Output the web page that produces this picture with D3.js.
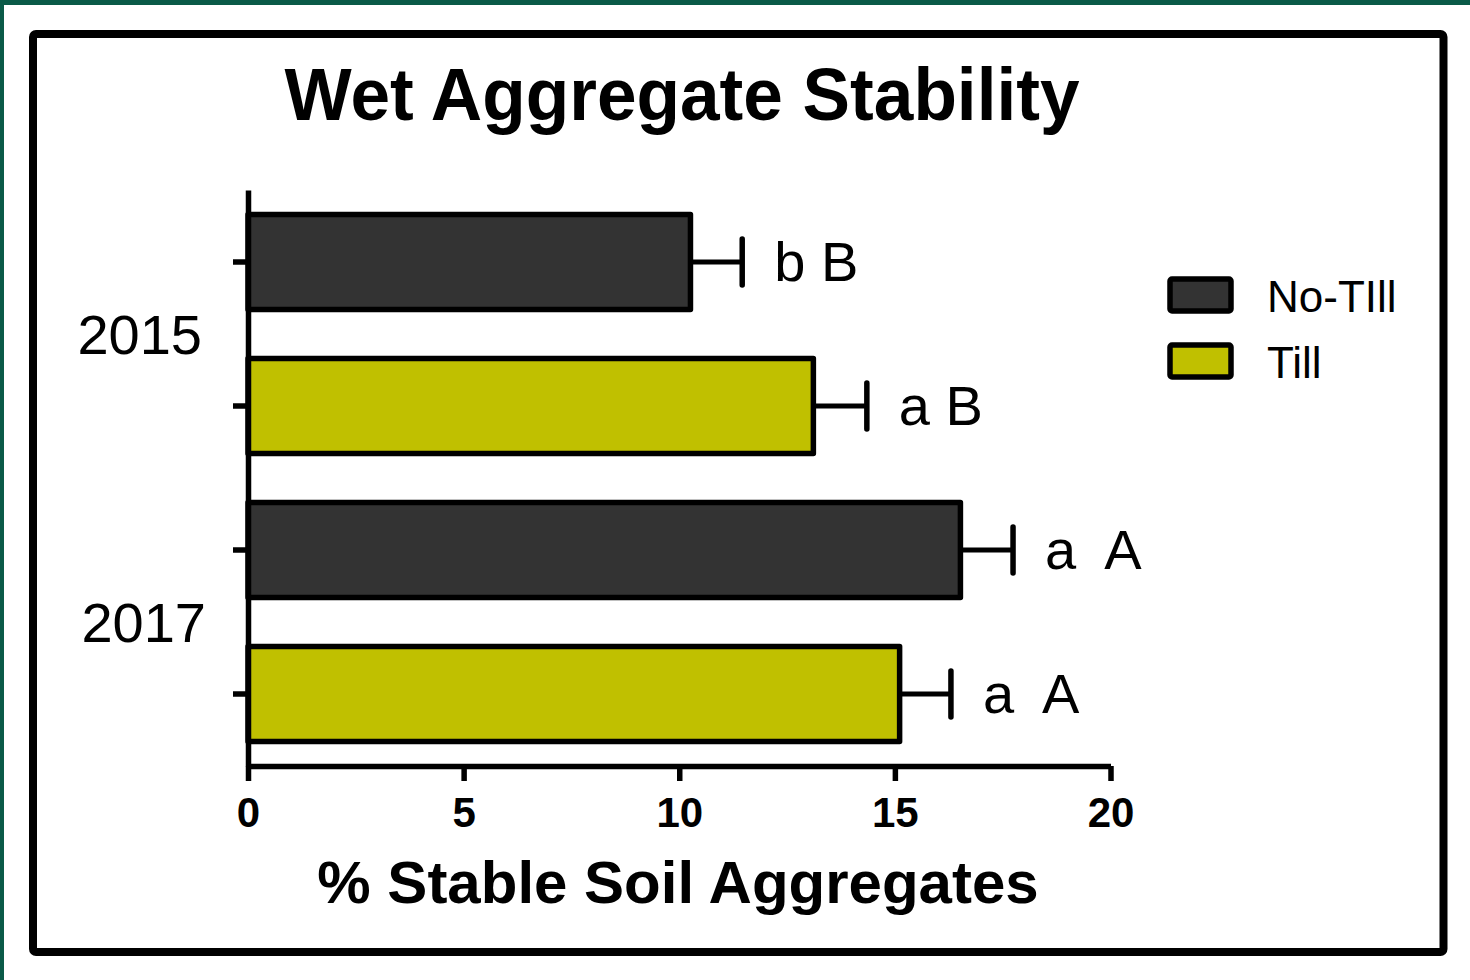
<!DOCTYPE html>
<html>
<head>
<meta charset="utf-8">
<script src="https://cdn.jsdelivr.net/npm/d3@7"></script>
<style>
  html, body { margin: 0; padding: 0; background: #ffffff; }
  svg { display: block; }
  text { font-family: "Liberation Sans", Arial, Helvetica, sans-serif; fill: #000; }
</style>
</head>
<body>
<svg id="chart" width="1470" height="980"></svg>
<script>
// Wet aggregate stability by year and tillage treatment
const years = ["2015", "2017"];
const treatments = ["No-TIll", "Till"];
const rowYear = ["2015", "2015", "2017", "2017"];
const rowTreatment = ["No-TIll", "Till", "No-TIll", "Till"];
const meanValues = [10.26, 13.11, 16.52, 15.11];
const errorValues = [1.20, 1.24, 1.22, 1.19];
const letterLabels = ["b B", "a B", "a  A", "a  A"];
const xTicks = [0, 5, 10, 15, 20];
const fills = ["#333333", "#c0c000"];

const rows = meanValues.map((v, i) => ({
  key: rowYear[i] + "|" + rowTreatment[i],
  year: rowYear[i],
  treatment: rowTreatment[i],
  mean: v,
  err: errorValues[i],
  label: letterLabels[i]
}));

const svg = d3.select("#chart");

// page frame
svg.append("rect").attr("x", 0).attr("y", 0).attr("width", 1470).attr("height", 5).attr("fill", "#0a5a48");
svg.append("rect").attr("x", 0).attr("y", 0).attr("width", 4).attr("height", 980).attr("fill", "#0a5a48");
svg.append("rect")
  .attr("x", 33).attr("y", 34).attr("width", 1410.5).attr("height", 918)
  .attr("rx", 3).attr("fill", "none").attr("stroke", "#000").attr("stroke-width", 8);

const x = d3.scaleLinear().domain([0, 20]).range([248, 1110.5]);
const y = d3.scaleBand().domain(rows.map(d => d.key)).range([190, 766])
  .paddingInner(0.34).paddingOuter(0.17);
const color = d3.scaleOrdinal().domain(treatments).range(fills);

// title
svg.append("text")
  .attr("x", 682).attr("y", 120)
  .attr("text-anchor", "middle")
  .attr("font-size", 74).attr("font-weight", "bold")
  .attr("textLength", 795).attr("lengthAdjust", "spacingAndGlyphs")
  .text("Wet Aggregate Stability");

// bars
svg.append("g").selectAll("rect")
  .data(rows).join("rect")
  .attr("x", x(0))
  .attr("y", d => y(d.key))
  .attr("width", d => x(d.mean) - x(0))
  .attr("height", y.bandwidth())
  .attr("fill", d => color(d.treatment))
  .attr("stroke", "#000").attr("stroke-width", 5.5)
  .attr("stroke-linejoin", "round");

// error bars
const eb = svg.append("g").selectAll("g").data(rows).join("g");
eb.append("line")
  .attr("x1", d => x(d.mean)).attr("x2", d => x(d.mean + d.err))
  .attr("y1", d => y(d.key) + y.bandwidth() / 2).attr("y2", d => y(d.key) + y.bandwidth() / 2)
  .attr("stroke", "#000").attr("stroke-width", 5);
eb.append("line")
  .attr("x1", d => x(d.mean + d.err)).attr("x2", d => x(d.mean + d.err))
  .attr("y1", d => y(d.key) + y.bandwidth() / 2 - 23).attr("y2", d => y(d.key) + y.bandwidth() / 2 + 23)
  .attr("stroke", "#000").attr("stroke-width", 5.5).attr("stroke-linecap", "round");

// significance letters
svg.append("g").selectAll("text").data(rows).join("text")
  .attr("x", d => x(d.mean + d.err) + 32)
  .attr("y", d => y(d.key) + y.bandwidth() / 2 + 19)
  .attr("font-size", 56)
  .style("white-space", "pre")
  .text(d => d.label);

// x axis
const xAxis = svg.append("g")
  .attr("transform", "translate(0,766)")
  .call(d3.axisBottom(x).tickValues(xTicks).tickSize(15).tickSizeOuter(0).tickPadding(16));
xAxis.select(".domain").attr("stroke", "#000").attr("stroke-width", 5.5);
xAxis.selectAll(".tick line").attr("stroke", "#000").attr("stroke-width", 5.5);
xAxis.selectAll(".tick text")
  .attr("font-family", "Liberation Sans, Arial, sans-serif")
  .attr("font-size", 42).attr("font-weight", "bold").attr("fill", "#000");

// y axis
const yAxis = svg.append("g")
  .attr("transform", "translate(248,0)")
  .call(d3.axisLeft(y).tickSize(15).tickSizeOuter(0).tickFormat(""));
yAxis.select(".domain").attr("stroke", "#000").attr("stroke-width", 5.5);
yAxis.selectAll(".tick line").attr("stroke", "#000").attr("stroke-width", 5.5);

// year group labels, centred on each pair of bars
svg.append("g").selectAll("text").data(years).join("text")
  .attr("x", (yr, i) => 202 + i * 4)
  .attr("y", yr => {
    const ks = rows.filter(r => r.year === yr).map(r => y(r.key) + y.bandwidth() / 2);
    return d3.mean(ks) + 20;
  })
  .attr("text-anchor", "end")
  .attr("font-size", 56)
  .text(yr => yr);

// x axis title
svg.append("text")
  .attr("x", 678).attr("y", 903)
  .attr("text-anchor", "middle")
  .attr("font-size", 60).attr("font-weight", "bold")
  .text("% Stable Soil Aggregates");

// legend
const legend = svg.append("g").selectAll("g").data(treatments).join("g")
  .attr("transform", (d, i) => `translate(1170,${279 + i * 66})`);
legend.append("rect")
  .attr("width", 61).attr("height", 32).attr("rx", 2)
  .attr("fill", d => color(d))
  .attr("stroke", "#000").attr("stroke-width", 5.5);
legend.append("text")
  .attr("x", 97).attr("y", 33)
  .attr("font-size", 44)
  .text(d => d);
</script>
</body>
</html>
